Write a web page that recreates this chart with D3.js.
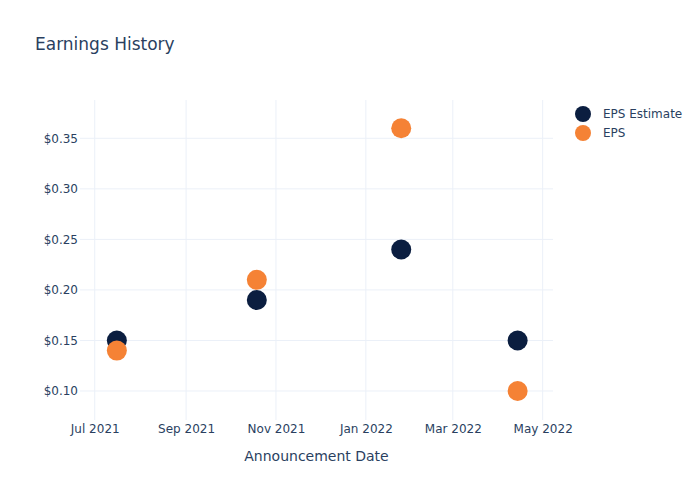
<!DOCTYPE html>
<html><head><meta charset="utf-8">
<script src="https://cdn.jsdelivr.net/npm/d3@7"></script>
<style>body{margin:0;background:#fff;} text{font-family:"DejaVu Sans",sans-serif;}</style>
</head><body>
<svg id="c" width="700" height="500"></svg>
<script>
const dates = ["2021-07-16","2021-10-19","2022-01-25","2022-04-14"];
const epsEstimate = [0.15, 0.19, 0.24, 0.15];
const eps = [0.14, 0.21, 0.36, 0.10];
const seriesNames = ["EPS Estimate", "EPS"];
const seriesColors = ["#0b1e40", "#f58235"];
const xTicks = ["2021-07-01","2021-09-01","2021-11-01","2022-01-01","2022-03-01","2022-05-01"];
const yTicks = [0.10, 0.15, 0.20, 0.25, 0.30, 0.35];

const parse = d3.utcParse("%Y-%m-%d");
const svg = d3.select("#c");
const L = 80, R = 553, T = 100, B = 420;
const x = d3.scaleUtc().domain([parse("2021-06-21"), parse("2022-05-08")]).range([L, R]);
const y = d3.scaleLinear().domain([0.0713, 0.3879]).range([B, T]);
const txt = "#2a3f5f", grid = "#ebf0f8";

svg.append("g").selectAll("line").data(xTicks).join("line")
  .attr("x1", d => x(parse(d))).attr("x2", d => x(parse(d)))
  .attr("y1", T).attr("y2", B).attr("stroke", grid).attr("stroke-width", 1);
svg.append("g").selectAll("line").data(yTicks).join("line")
  .attr("x1", L).attr("x2", R)
  .attr("y1", d => y(d)).attr("y2", d => y(d)).attr("stroke", grid).attr("stroke-width", 1);

const xAxis = d3.axisBottom(x).tickValues(xTicks.map(parse)).tickFormat(d3.utcFormat("%b %Y")).tickSize(0).tickPadding(4);
svg.append("g").attr("transform", `translate(0,${B})`).call(xAxis)
  .call(g => g.select(".domain").remove())
  .selectAll("text").attr("fill", txt).style("font-size", "12px");
const yAxis = d3.axisLeft(y).tickValues(yTicks).tickFormat(d => "$" + d.toFixed(2)).tickSize(0).tickPadding(2);
svg.append("g").attr("transform", `translate(${L},0)`).call(yAxis)
  .call(g => g.select(".domain").remove())
  .selectAll("text").attr("fill", txt).style("font-size", "12px");

const series = [epsEstimate, eps];
series.forEach((vals, i) => {
  svg.append("g").selectAll("circle").data(vals).join("circle")
    .attr("cx", (d, j) => x(parse(dates[j]))).attr("cy", d => y(d))
    .attr("r", 10).attr("fill", seriesColors[i]);
});

svg.append("text").attr("x", 35).attr("y", 50).text("Earnings History")
  .attr("fill", txt).style("font-size", "17px");
svg.append("text").attr("x", (L + R) / 2).attr("y", 461).attr("text-anchor", "middle")
  .text("Announcement Date").attr("fill", txt).style("font-size", "14px");

const lg = svg.append("g");
seriesNames.forEach((n, i) => {
  const yy = 114 + i * 19;
  lg.append("circle").attr("cx", 583).attr("cy", yy).attr("r", 8).attr("fill", seriesColors[i]);
  lg.append("text").attr("x", 603).attr("y", yy + 4).text(n).attr("fill", txt).style("font-size", "12px");
});
</script>
</body></html>
